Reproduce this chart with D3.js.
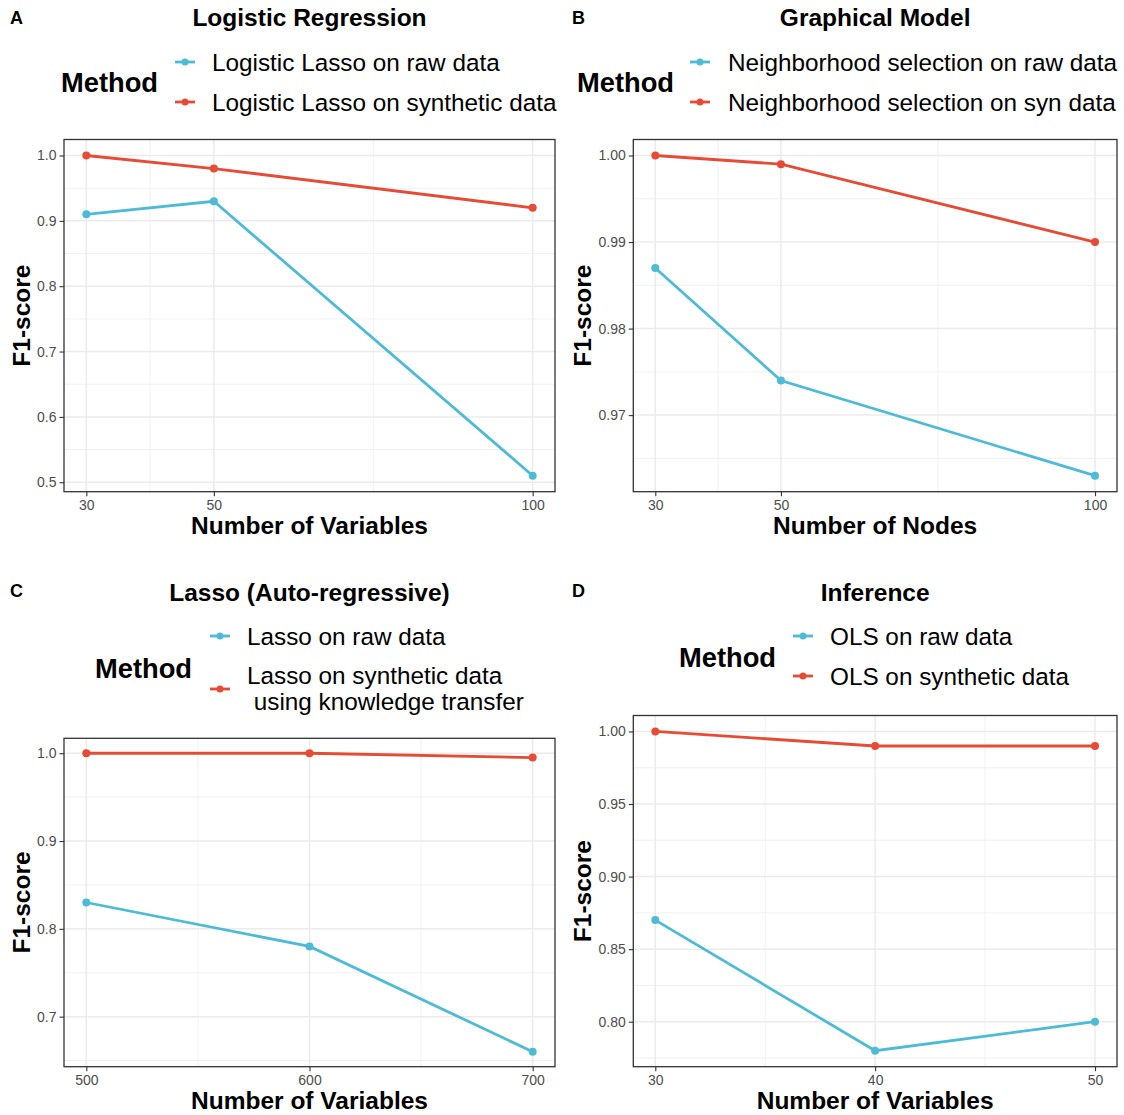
<!DOCTYPE html>
<html><head><meta charset="utf-8">
<script src="https://cdn.jsdelivr.net/npm/d3@7"></script>
<style>
html,body{margin:0;padding:0;background:#fff;}
svg{display:block;font-family:"Liberation Sans",Arial,Helvetica,sans-serif;}
</style></head>
<body>
<svg id="chart" width="1124" height="1115"></svg>
<script>
// ---------- data ----------
const seriesNames = ["raw", "syn"];
const colors = ["#4DBBD5", "#E64B35"];

const xA = [30, 50, 100];
const rawA = [0.91, 0.93, 0.51];
const synA = [1.0, 0.98, 0.92];
const yTicksA = [0.5, 0.6, 0.7, 0.8, 0.9, 1.0];
const legendA = ["Logistic Lasso on raw data", "Logistic Lasso on synthetic data"];

const xB = [30, 50, 100];
const rawB = [0.987, 0.974, 0.963];
const synB = [1.0, 0.999, 0.990];
const yTicksB = [0.97, 0.98, 0.99, 1.00];
const legendB = ["Neighborhood selection on raw data", "Neighborhood selection on syn data"];

const xC = [500, 600, 700];
const rawC = [0.83, 0.78, 0.66];
const synC = [1.0, 1.0, 0.995];
const yTicksC = [0.7, 0.8, 0.9, 1.0];
const legendC = [["Lasso on raw data"], ["Lasso on synthetic data", " using knowledge transfer"]];

const xD = [30, 40, 50];
const rawD = [0.87, 0.78, 0.80];
const synD = [1.0, 0.99, 0.99];
const yTicksD = [0.80, 0.85, 0.90, 0.95, 1.00];
const legendD = ["OLS on raw data", "OLS on synthetic data"];

const titles = ["Logistic Regression", "Graphical Model", "Lasso (Auto-regressive)", "Inference"];
const letters = ["A", "B", "C", "D"];
const xTitles = ["Number of Variables", "Number of Nodes", "Number of Variables", "Number of Variables"];

// ---------- drawing ----------
const svg = d3.select("#chart");
const FONT = '"Liberation Sans",Arial,Helvetica,sans-serif';

function expandDomain(vals) {
  const e = d3.extent(vals);
  const pad = (e[1] - e[0]) * 0.05;
  return [e[0] - pad, e[1] + pad];
}
function midpoints(t, dom) {
  const step = t[1] - t[0];
  const ext = [t[0] - step].concat(t, [t[t.length - 1] + (t[t.length-1]-t[t.length-2])]);
  const m = [];
  for (let i = 0; i < ext.length - 1; i++) m.push((ext[i] + ext[i + 1]) / 2);
  return m.filter(v => v > dom[0] && v < dom[1]);
}

function drawPanel(p) {
  const g = svg.append("g");
  const x = d3.scaleLinear().domain(expandDomain(p.xs)).range([p.left, p.right]);
  const y = d3.scaleLinear().domain(expandDomain(p.raw.concat(p.syn))).range([p.bottom, p.top]);

  // grid
  const xMinor = midpoints(p.xs, x.domain());
  const yMinor = midpoints(p.yTicks, y.domain());
  g.selectAll(".gxm").data(xMinor).join("line")
    .attr("x1", d => x(d)).attr("x2", d => x(d)).attr("y1", p.top).attr("y2", p.bottom)
    .attr("stroke", "#ededed").attr("stroke-width", 0.8);
  g.selectAll(".gym").data(yMinor).join("line")
    .attr("x1", p.left).attr("x2", p.right).attr("y1", d => y(d)).attr("y2", d => y(d))
    .attr("stroke", "#ededed").attr("stroke-width", 0.8);
  g.selectAll(".gx").data(p.xs).join("line")
    .attr("x1", d => x(d)).attr("x2", d => x(d)).attr("y1", p.top).attr("y2", p.bottom)
    .attr("stroke", "#ebebeb").attr("stroke-width", 1.5);
  g.selectAll(".gy").data(p.yTicks).join("line")
    .attr("x1", p.left).attr("x2", p.right).attr("y1", d => y(d)).attr("y2", d => y(d))
    .attr("stroke", "#ebebeb").attr("stroke-width", 1.5);

  // axes
  const xAxis = d3.axisBottom(x).tickValues(p.xs).tickSize(4.5).tickPadding(4).tickFormat(d3.format("d"));
  const yAxis = d3.axisLeft(y).tickValues(p.yTicks).tickSize(4.5).tickPadding(3).tickFormat(d3.format(p.yFmt));
  const gx = g.append("g").attr("transform", `translate(0,${p.bottom})`).call(xAxis);
  const gy = g.append("g").attr("transform", `translate(${p.left},0)`).call(yAxis);
  [gx, gy].forEach(a => {
    a.select(".domain").remove();
    a.selectAll(".tick line").attr("stroke", "#333333").attr("stroke-width", 1.1);
    a.selectAll(".tick text").attr("fill", "#4d4d4d").style("font-size", "14px").style("font-family", FONT);
  });

  // border
  g.append("rect").attr("x", p.left).attr("y", p.top)
    .attr("width", p.right - p.left).attr("height", p.bottom - p.top)
    .attr("fill", "none").attr("stroke", "#333333").attr("stroke-width", 1.3);

  // lines + points
  const series = [p.raw, p.syn];
  series.forEach((vals, si) => {
    const pts = p.xs.map((xv, i) => [xv, vals[i]]);
    const line = d3.line().x(d => x(d[0])).y(d => y(d[1]));
    g.append("path").datum(pts).attr("d", line)
      .attr("fill", "none").attr("stroke", colors[si]).attr("stroke-width", 2.8);
    g.selectAll(".pt" + si).data(pts).join("circle")
      .attr("cx", d => x(d[0])).attr("cy", d => y(d[1])).attr("r", 4)
      .attr("fill", colors[si]);
  });

  // titles
  g.append("text").attr("x", p.letterX).attr("y", p.letterY).text(p.letter)
    .style("font-size", "18px").style("font-weight", "bold").attr("fill", "#000");
  g.append("text").attr("x", (p.left + p.right) / 2).attr("y", p.titleY).text(p.title)
    .attr("text-anchor", "middle").style("font-size", "24.5px").style("font-weight", "bold").attr("fill", "#000");
  g.append("text").attr("x", (p.left + p.right) / 2).attr("y", p.bottom + 42).text(p.xTitle)
    .attr("text-anchor", "middle").style("font-size", "24.5px").style("font-weight", "bold").attr("fill", "#000");
  g.append("text").attr("transform", `translate(${p.left - p.yTitleGap},${(p.top + p.bottom) / 2}) rotate(-90)`)
    .text("F1-score").attr("text-anchor", "middle").style("font-size", "24.5px").style("font-weight", "bold").attr("fill", "#000");

  // legend
  const L = p.legend;
  g.append("text").attr("x", L.methodX).attr("y", L.methodY + 9.5).text("Method")
    .style("font-size", "27.3px").style("font-weight", "bold").attr("fill", "#000");
  L.items.forEach((it, i) => {
    g.append("line").attr("x1", L.keyX).attr("x2", L.keyX + 20)
      .attr("y1", it.keyY).attr("y2", it.keyY)
      .attr("stroke", colors[i]).attr("stroke-width", 2.8);
    g.append("circle").attr("cx", L.keyX + 10).attr("cy", it.keyY).attr("r", 3.5).attr("fill", colors[i]);
    const lines = Array.isArray(it.label) ? it.label : [it.label];
    lines.forEach((ln, j) => {
      g.append("text").attr("x", L.labelX).attr("y", it.textY + j * 26).text(ln)
        .style("font-size", "24.3px").attr("fill", "#000").style("white-space", "pre")
        .attr("xml:space", "preserve");
    });
  });
}

drawPanel({
  xs: xA, raw: rawA, syn: synA, yTicks: yTicksA, yFmt: ".1f", yTitleGap: 34,
  left: 64, right: 555, top: 139.5, bottom: 491.7,
  letter: letters[0], letterX: 10, letterY: 24, title: titles[0], titleY: 26, xTitle: xTitles[0],
  legend: { methodX: 61, methodY: 82, keyX: 175, labelX: 212,
    items: [{ keyY: 62, textY: 70.5, label: legendA[0] }, { keyY: 102, textY: 110.5, label: legendA[1] }] }
});
drawPanel({
  xs: xB, raw: rawB, syn: synB, yTicks: yTicksB, yFmt: ".2f", yTitleGap: 42,
  left: 633.3, right: 1117, top: 139.5, bottom: 491.7,
  letter: letters[1], letterX: 572, letterY: 24, title: titles[1], titleY: 26, xTitle: xTitles[1],
  legend: { methodX: 577, methodY: 82, keyX: 690, labelX: 728,
    items: [{ keyY: 62, textY: 70.5, label: legendB[0] }, { keyY: 102, textY: 110.5, label: legendB[1] }] }
});
drawPanel({
  xs: xC, raw: rawC, syn: synC, yTicks: yTicksC, yFmt: ".1f", yTitleGap: 34,
  left: 64, right: 555, top: 738.3, bottom: 1066.7,
  letter: letters[2], letterX: 10, letterY: 597, title: titles[2], titleY: 601, xTitle: xTitles[2],
  legend: { methodX: 95, methodY: 668, keyX: 210, labelX: 247,
    items: [{ keyY: 636, textY: 644.5, label: legendC[0] }, { keyY: 689, textY: 684, label: legendC[1] }] }
});
drawPanel({
  xs: xD, raw: rawD, syn: synD, yTicks: yTicksD, yFmt: ".2f", yTitleGap: 42,
  left: 633.3, right: 1117, top: 715.5, bottom: 1066.7,
  letter: letters[3], letterX: 572, letterY: 597, title: titles[3], titleY: 601, xTitle: xTitles[3],
  legend: { methodX: 679, methodY: 657, keyX: 793, labelX: 830,
    items: [{ keyY: 636, textY: 644.5, label: legendD[0] }, { keyY: 676, textY: 684.5, label: legendD[1] }] }
});
</script>
</body></html>
